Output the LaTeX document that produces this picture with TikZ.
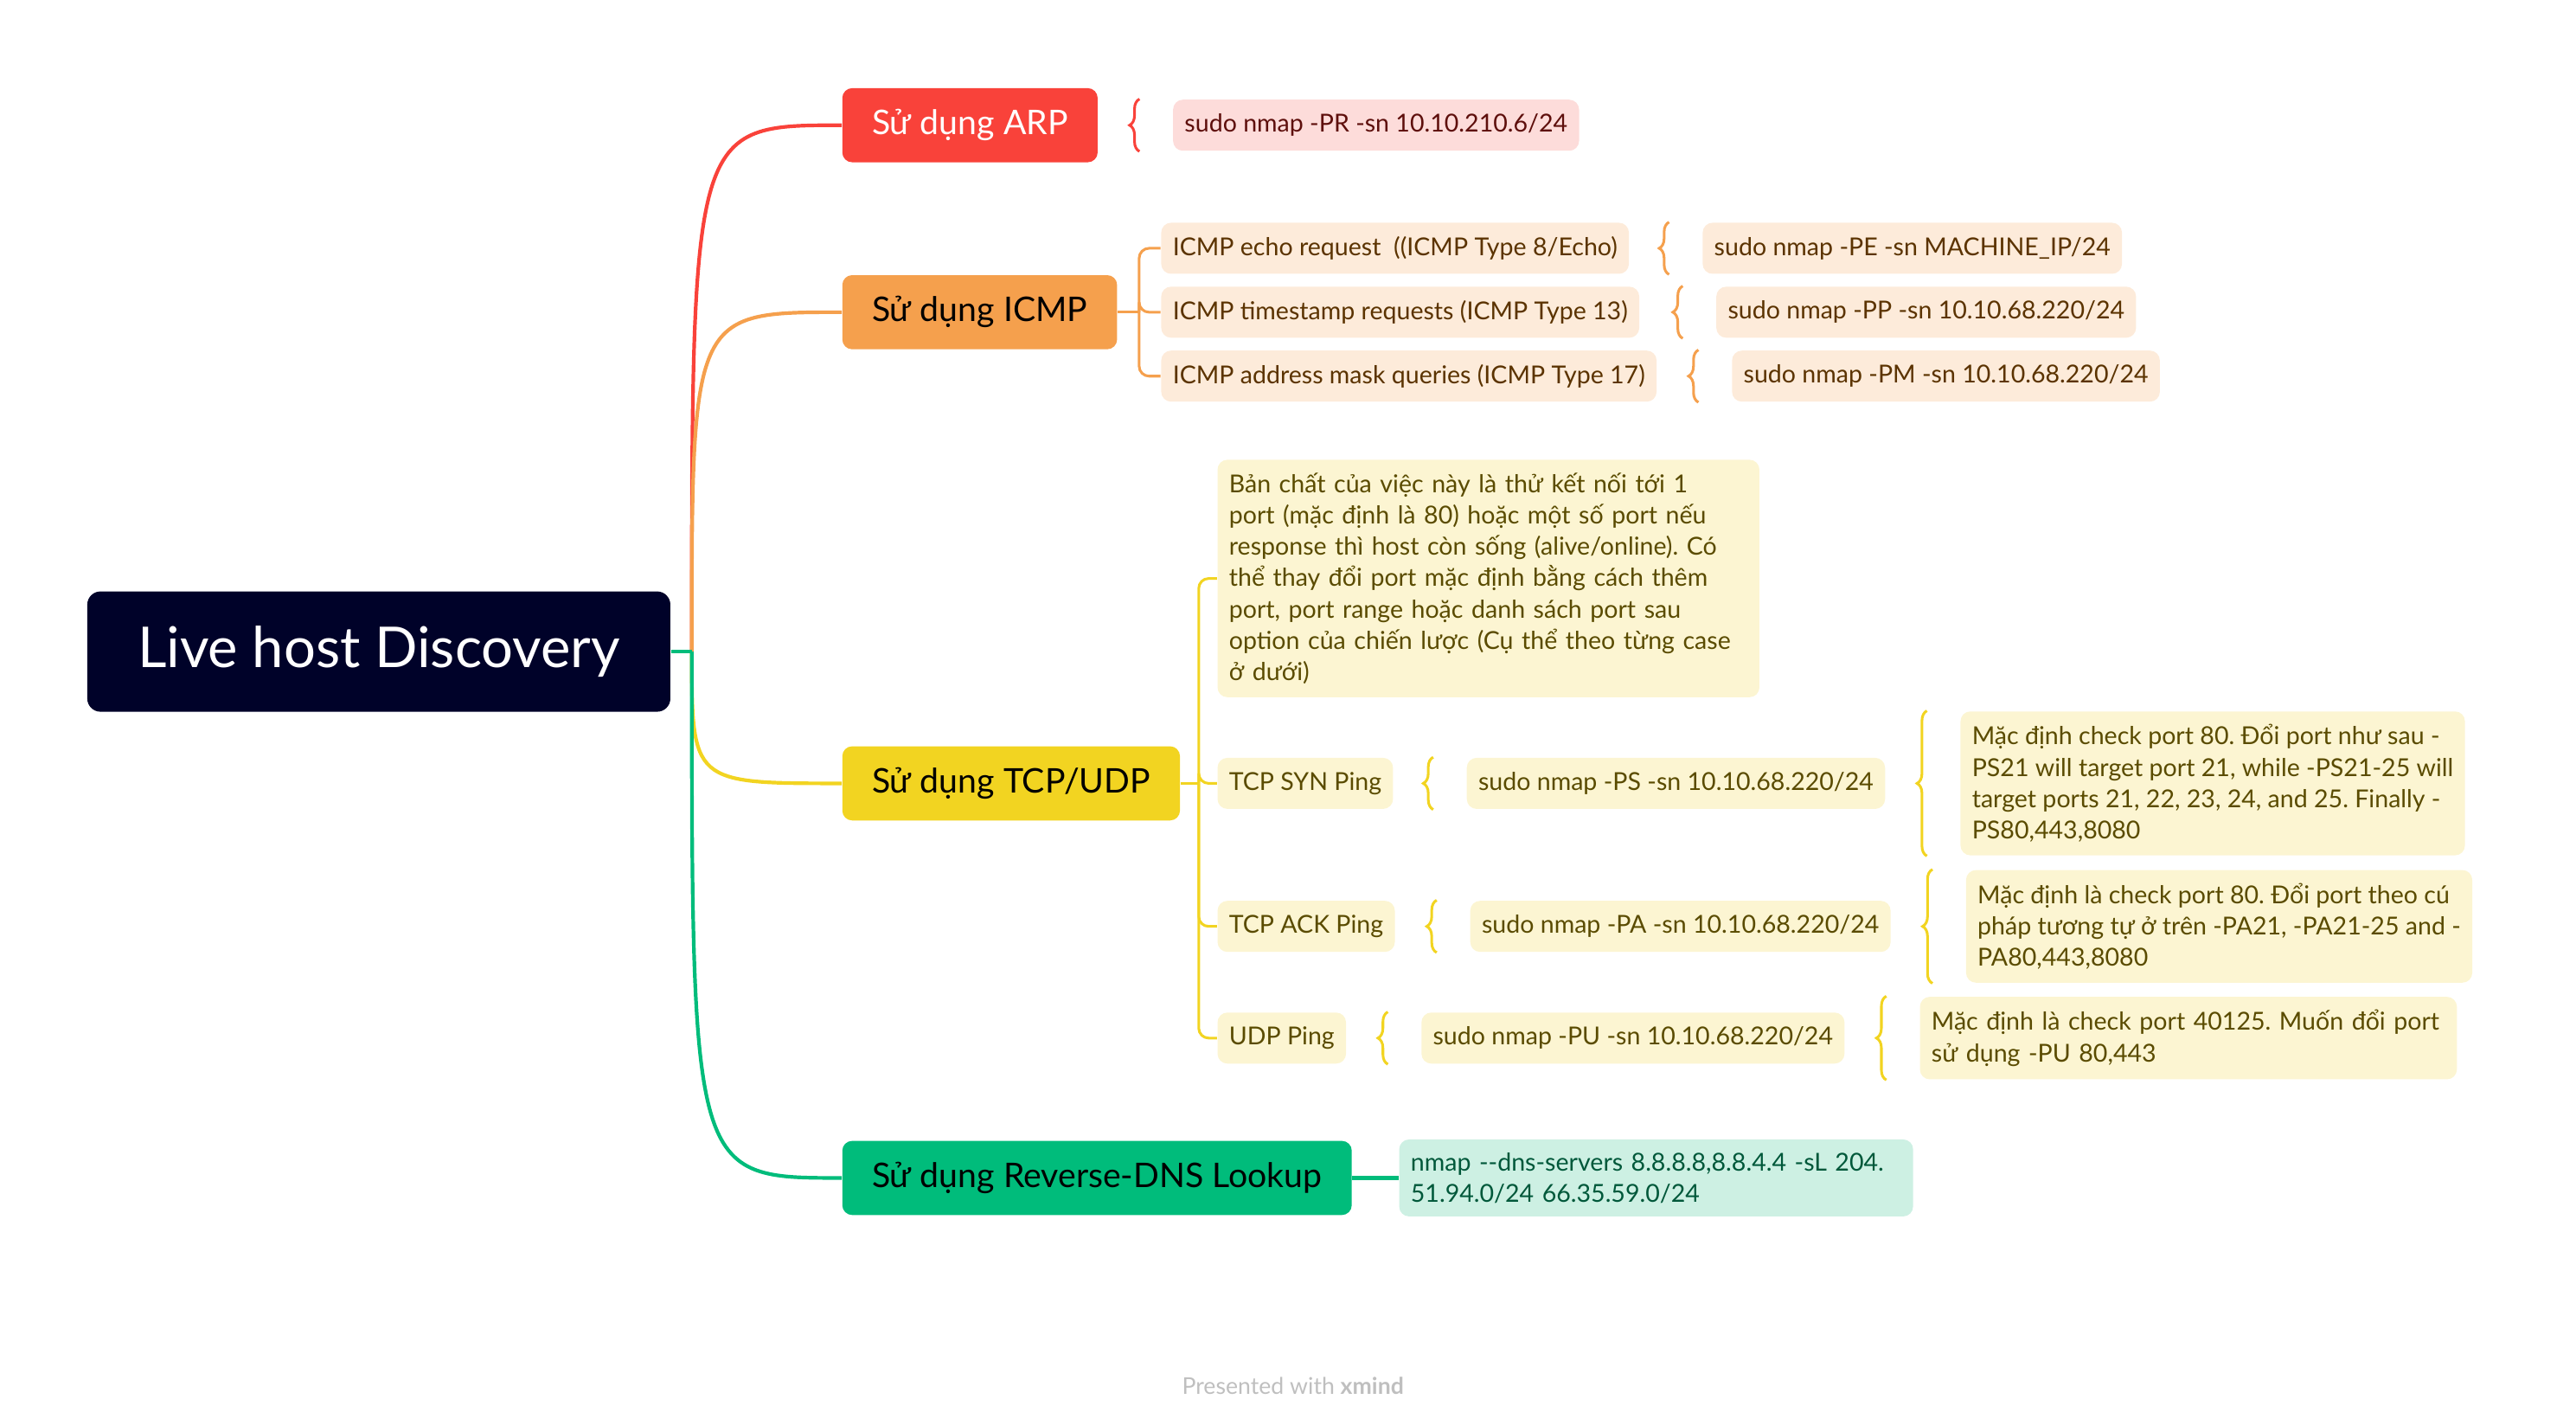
\documentclass[tikz,border=0pt]{standalone}
\usepackage{fontspec}
\setmainfont{Lato}
\usetikzlibrary{positioning,decorations.pathreplacing}
\frenchspacing
\definecolor{rootbg}{RGB}{0,2,41}
\definecolor{arpred}{RGB}{249,66,58}
\definecolor{arplight}{RGB}{253,220,218}
\definecolor{arptext}{RGB}{94,15,12}
\definecolor{icmporange}{RGB}{245,160,77}
\definecolor{icmplight}{RGB}{253,235,218}
\definecolor{icmptext}{RGB}{91,51,0}
\definecolor{tcpyellow}{RGB}{242,212,33}
\definecolor{tcplight}{RGB}{252,245,210}
\definecolor{tcptext}{RGB}{90,75,0}
\definecolor{dnsgreen}{RGB}{0,188,123}
\definecolor{dnslight}{RGB}{205,240,227}
\definecolor{dnstext}{RGB}{0,88,58}
\tikzset{
  central/.style={fill=rootbg, text=white, rounded corners=4pt, minimum width=177pt,
    minimum height=36.5pt, font=\fontsize{17.1}{20}\selectfont},
  topic/.style={anchor=west, rounded corners=3pt, minimum height=22.5pt, inner xsep=9pt,
    font=\fontsize{10.3}{12}\selectfont},
  leaf/.style={rounded corners=3pt, minimum height=15.5pt, inner xsep=3.5pt, inner ysep=4pt,
    align=left, font=\fontsize{7.5}{9.5}\selectfont},
  branch/.style={line width=1.1pt},
  fork/.style={line width=0.8pt, rounded corners=3pt},
  curly/.style={line width=0.8pt, decorate, decoration={brace, amplitude=3pt}},
}
\begin{document}
\begin{tikzpicture}[x=0.5pt, y=-0.5pt]
	\useasboundingbox (0,0) rectangle (1564,864.5);
	\node[central] (live) at (230,395.5) {Live host Discovery};
	\coordinate (hub) at (420,395.5);
	% main branches
	\node[topic, fill=arpred, text=white] (arp) at (511,76) {Sử dụng ARP};
	\node[topic, fill=icmporange] (icmp) at (511,189.5) {Sử dụng ICMP};
	\node[topic, fill=tcpyellow] (tcp) at (511,475.5) {Sử dụng TCP/UDP};
	\node[topic, fill=dnsgreen] (dns) at (511,715) {Sử dụng Reverse-DNS Lookup};
	\draw[branch, arpred] (hub) .. controls (hub |- arp.west) .. (arp.west);
	\draw[branch, icmporange] (hub) .. controls (hub |- icmp.west) .. (icmp.west);
	\draw[branch, tcpyellow] (hub) .. controls (hub |- tcp.west) .. (tcp.west);
	\draw[branch, dnsgreen] (hub) .. controls (hub |- dns.west) .. (dns.west);
	\draw[branch, dnsgreen] (live.east) -- (hub);
	% ARP
	\node[leaf, fill=arplight, text=arptext] (arpcmd) [right=22.5pt of arp] {sudo nmap -PR -sn 10.10.210.6/24};
	\draw[curly, arpred] ([xshift=-10pt]arpcmd.south west) -- ([xshift=-10pt]arpcmd.north west);
	% ICMP
	\begin{scope}[every node/.style={leaf, fill=icmplight, text=icmptext}]
	\node (stamp) [right=13pt of icmp] {ICMP timestamp requests (ICMP Type 13)};
	\node (echo) [above=3.5pt of stamp.north west, anchor=south west] {ICMP echo request\ \ ((ICMP Type 8/Echo)};
	\node (mask) [below=3.5pt of stamp.south west, anchor=north west] {ICMP address mask queries (ICMP Type 17)};
	\node (echocmd) [right=22pt of echo] {sudo nmap -PE -sn MACHINE\_IP/24};
	\node (stampcmd) [right=23pt of stamp] {sudo nmap -PP -sn 10.10.68.220/24};
	\node (maskcmd) [right=22.5pt of mask] {sudo nmap -PM -sn 10.10.68.220/24};
	\end{scope}
	\coordinate (icmpfork) at ([xshift=6.5pt]icmp.east);
	\draw[fork, icmporange] (icmp.east) -- (icmpfork);
	\foreach \c in {echo,stamp,mask}
		\draw[fork, icmporange] (icmpfork) |- (\c.west);
	\foreach \c in {echocmd,stampcmd,maskcmd}
		\draw[curly, icmporange] ([xshift=-10pt]\c.south west) -- ([xshift=-10pt]\c.north west);
	% TCP/UDP
	\begin{scope}[every node/.style={leaf, fill=tcplight, text=tcptext}]
	\node (syn) [right=11pt of tcp] {TCP SYN Ping};
	\node (idea) [above=18pt of syn.north west, anchor=south west, text width=157.5pt] {Bản chất của việc này là thử kết nối tới 1\\
		port (mặc định là 80) hoặc một số port nếu\\
		response thì host còn sống (alive/online). Có\\
		thể thay đổi port mặc định bằng cách thêm\\
		port, port range hoặc danh sách port sau\\
		option của chiến lược (Cụ thể theo từng case\\
		ở dưới)};
	\node (ack) [below=27.5pt of syn.south west, anchor=north west] {TCP ACK Ping};
	\node (udp) [below=18pt of ack.south west, anchor=north west] {UDP Ping};
	\node (syncmd) [right=22pt of syn] {sudo nmap -PS -sn 10.10.68.220/24};
	\node (ackcmd) [right=22.5pt of ack] {sudo nmap -PA -sn 10.10.68.220/24};
	\node (udpcmd) [right=22.5pt of udp] {sudo nmap -PU -sn 10.10.68.220/24};
	\node (synnote) [right=22.5pt of syncmd] {Mặc định check port 80. Đổi port như sau -\\
		PS21 will target port 21, while -PS21-25 will\\
		target ports 21, 22, 23, 24, and 25. Finally -\\
		PS80,443,8080};
	\node (acknote) [right=22.5pt of ackcmd] {Mặc định là check port 80. Đổi port theo cú\\
		pháp tương tự ở trên -PA21, -PA21-25 and -\\
		PA80,443,8080};
	\node (udpnote) [right=22.5pt of udpcmd, text width=156pt] {Mặc định là check port 40125. Muốn đổi port\\
		sử dụng -PU 80,443};
	\end{scope}
	\coordinate (tcpfork) at ([xshift=5.5pt]tcp.east);
	\draw[fork, tcpyellow] (tcp.east) -- (tcpfork);
	\foreach \c in {idea,syn,ack,udp}
		\draw[fork, tcpyellow] (tcpfork) |- (\c.west);
	\foreach \c in {syncmd,ackcmd,udpcmd,synnote,acknote,udpnote}
		\draw[curly, tcpyellow] ([xshift=-10pt]\c.south west) -- ([xshift=-10pt]\c.north west);
	% Reverse-DNS
	\node[leaf, fill=dnslight, text=dnstext, text width=149pt] (dnsnote) [right=14pt of dns] {nmap -{}-dns-servers 8.8.8.8,8.8.4.4 -sL 204.\\
		51.94.0/24 66.35.59.0/24};
	\draw[branch, dnsgreen] (dns.east) -- (dnsnote.west);
	% footer
	\node[text=black!25, font=\fontsize{7}{8}\selectfont] (credit) at (785,841) {Presented with \textbf{xmind}};
\end{tikzpicture}
\end{document}
